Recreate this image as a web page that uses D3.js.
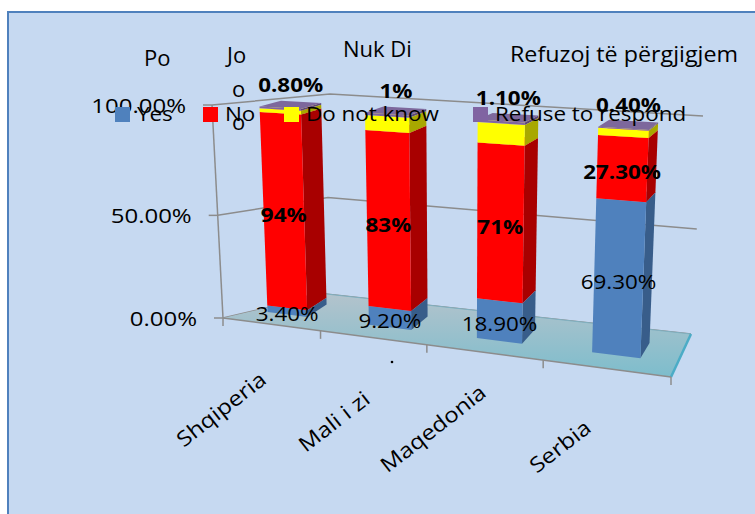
<!DOCTYPE html>
<html><head><meta charset="utf-8">
<script src="https://cdn.jsdelivr.net/npm/d3@7"></script>
<style>body{margin:0;background:#fff}svg{display:block}text{font-family:"Open Sans",sans-serif}</style>
</head><body><svg id="c" width="755" height="514"></svg>
<script>
// ---------------- data ----------------
const categories = ["Shqiperia", "Mali i zi", "Maqedonia", "Serbia"];
const seriesNames = ["Yes", "No", "Do not know", "Refuse to respond"];
const yesValues = [3.4, 9.2, 18.9, 69.3];
const noValues = [94, 83, 71, 27.3];
const dontKnowValues = [1.8, 6.8, 9.0, 3.0];
const refuseValues = [0.8, 1.0, 1.1, 0.4];
const yesLabels = ["3.40%", "9.20%", "18.90%", "69.30%"];
const noLabels = ["94%", "83%", "71%", "27.30%"];
const refuseLabels = ["0.80%", "1%", "1.10%", "0.40%"];
const valueTicks = [0, 50, 100];
const valueTickLabels = ["0.00%", "50.00%", "100.00%"];
const albanianHeaders = ["Po", "Jo", "Nuk Di", "Refuzoj të përgjigjem"];

// ---------------- scales ----------------
const uScale = d3.scaleBand().domain(categories).range([0, 1]).paddingInner(0.6).paddingOuter(0.3);
const wScale = d3.scaleLinear().domain([0, 100]).range([0, 1]);
const depth = d3.scaleLinear().domain([0, 1]).range([0.4, 0.6]);
const frontColor = d3.scaleOrdinal().domain(seriesNames).range(["#4f81bd", "#ff0000", "#ffff00", "#8064a2"]);
const sideColor = d3.scaleOrdinal().domain(seriesNames).range(["#385d8a", "#a80000", "#a8a800", "#5d4878"]);
const topColor = d3.scaleOrdinal().domain(seriesNames).range(["#6d95c8", "#ff3030", "#ffff70", "#7d689c"]);

// ---------------- wall / floor box (corner layout, foreshortened axes) ----------------
const C = {"000": [223, 318], "001": [212, 105], "010": [326, 294], "011": [330, 94],
           "100": [671, 377], "110": [691, 334], "111": [703, 116]};
const foreU = u => u * (1 - 0.165) / (1 - 0.165 * u);
const foreW = w => w * (1 - 0.07) / (1 - 0.07 * w);
const lerp = (a, b, t) => d3.interpolate(a, b)(t);
const wallPt = (corner0, corner1, w) => lerp(C[corner0], C[corner1], foreW(w));
const frontEdge = u => lerp(C["000"], C["100"], foreU(u));

// ---------------- perspective camera for the columns (fit to the reference columns) ----------------
const anchors = [
  [[0.075,0.4,0.034],[268,307]], [[0.175,0.4,0.034],[307,310]], [[0.075,0.4,1],[260,106]],
  [[0.175,0.4,1],[302,109]], [[0.175,0.6,1],[322,102]], [[0.075,0.6,1],[280,100]],
  [[0.325,0.4,0.092],[367,306]], [[0.425,0.6,0.092],[427,298]], [[0.325,0.4,1],[365,112]],
  [[0.425,0.4,1],[408,115]], [[0.425,0.6,1],[427,109]],
  [[0.575,0.4,0],[477,339]], [[0.675,0.4,0],[522,343]], [[0.675,0.6,0],[537,328]],
  [[0.575,0.4,0.189],[477,298]], [[0.575,0.4,1],[477,122]], [[0.675,0.4,1],[523,124]], [[0.675,0.6,1],[538,119]],
  [[0.825,0.4,0],[592,352]], [[0.925,0.4,0],[640,358]], [[0.925,0.6,0],[649,344]], [[0.825,0.4,0.693],[597,197]],
  [[0.825,0.4,1],[600,125]], [[0.925,0.4,1],[650,130]], [[0.925,0.6,1],[659,123]], [[0.825,0.6,1],[607,118]]
];
function solve(A, b) {
  const n = b.length, M = A.map((r, i) => r.concat([b[i]]));
  for (let c = 0; c < n; c++) {
    let p = c;
    for (let r = c + 1; r < n; r++) if (Math.abs(M[r][c]) > Math.abs(M[p][c])) p = r;
    [M[c], M[p]] = [M[p], M[c]];
    for (let r = 0; r < n; r++) {
      if (r === c) continue;
      const f = M[r][c] / M[c][c];
      for (let k = c; k <= n; k++) M[r][k] -= f * M[c][k];
    }
  }
  return M.map((r, i) => r[n] / r[i]);
}
function fitCamera(pts) {
  const AtA = Array.from({length: 11}, () => new Array(11).fill(0)), Atb = new Array(11).fill(0);
  const add = (r, b) => { for (let i = 0; i < 11; i++) { Atb[i] += r[i] * b; for (let j = 0; j < 11; j++) AtA[i][j] += r[i] * r[j]; } };
  pts.forEach(([[X, Y, Z], [sx, sy]]) => {
    const x = (sx - 400) / 300, y = (sy - 250) / 300;
    add([X, Y, Z, 1, 0, 0, 0, 0, -x * X, -x * Y, -x * Z], x);
    add([0, 0, 0, 0, X, Y, Z, 1, -y * X, -y * Y, -y * Z], y);
  });
  return solve(AtA, Atb);
}
const cam = fitCamera(anchors);
function P(X, Y, Z) {
  const d = cam[8] * X + cam[9] * Y + cam[10] * Z + 1;
  return [400 + 300 * (cam[0] * X + cam[1] * Y + cam[2] * Z + cam[3]) / d,
          250 + 300 * (cam[4] * X + cam[5] * Y + cam[6] * Z + cam[7]) / d];
}

const table = categories.map((c, i) => ({cat: c, "Yes": yesValues[i], "No": noValues[i],
  "Do not know": dontKnowValues[i], "Refuse to respond": refuseValues[i]}));
const stacked = d3.stack().keys(seriesNames)(table);

const svg = d3.select("#c");
const poly = pts => d3.line()(pts) + "Z";
const SX = 1.15;

// background frame
svg.append("rect").attr("x", 8).attr("y", 12).attr("width", 800).attr("height", 600)
  .attr("fill", "#c6d9f1").attr("stroke", "#4f81bd").attr("stroke-width", 2);

// gridlines on side + back walls
const grid = svg.append("g").attr("stroke", "#8c8c8c").attr("stroke-width", 1.5).attr("fill", "none");
valueTicks.forEach(t => {
  const w = wScale(t);
  grid.append("path").attr("d", d3.line()([wallPt("000", "001", w), wallPt("010", "011", w), wallPt("110", "111", w)]));
});
grid.append("path").attr("d", d3.line()([C["000"], C["001"]]));

// floor
const defs = svg.append("defs");
const fg = defs.append("linearGradient").attr("id", "floorGrad").attr("gradientUnits", "userSpaceOnUse")
  .attr("x1", 0).attr("x2", 0).attr("y1", C["010"][1]).attr("y2", C["100"][1]);
fg.append("stop").attr("offset", 0).attr("stop-color", "#b3c3cc");
fg.append("stop").attr("offset", 1).attr("stop-color", "#7dbdcc");
svg.append("path").attr("d", poly([C["000"], C["100"], C["110"], C["010"]])).attr("fill", "url(#floorGrad)");
svg.append("path").attr("d", d3.line()([C["010"], C["110"]])).attr("stroke", "#7fb0c0").attr("stroke-width", 1).attr("fill", "none");
svg.append("path").attr("d", d3.line()([C["100"], C["110"]])).attr("stroke", "#4bacc6").attr("stroke-width", 2.5).attr("fill", "none");
svg.append("path").attr("d", d3.line()([C["000"], C["100"]])).attr("stroke", "#8c8c8c").attr("stroke-width", 1.5).attr("fill", "none");

// ticks
const ticks = svg.append("g").attr("stroke", "#8c8c8c").attr("stroke-width", 1.5);
valueTicks.forEach(t => {
  const q = wallPt("000", "001", wScale(t));
  ticks.append("line").attr("x1", q[0] - 9).attr("x2", q[0]).attr("y1", q[1]).attr("y2", q[1]);
});
d3.range(0, categories.length + 1).map(i => i / categories.length).forEach(u => {
  const q = frontEdge(u);
  ticks.append("line").attr("x1", q[0]).attr("x2", q[0]).attr("y1", q[1]).attr("y2", q[1] + 8);
});

// columns
const bars = svg.append("g");
categories.forEach((cat, ci) => {
  const u0 = uScale(cat), u1 = u0 + uScale.bandwidth(), v0 = depth(0), v1 = depth(1);
  stacked.forEach(layer => {
    const key = layer.key, w0 = wScale(layer[ci][0]), w1 = wScale(layer[ci][1]);
    bars.append("path").attr("d", poly([P(u1, v0, w0), P(u1, v1, w0), P(u1, v1, w1), P(u1, v0, w1)])).attr("fill", sideColor(key));
    bars.append("path").attr("d", poly([P(u0, v0, w0), P(u1, v0, w0), P(u1, v0, w1), P(u0, v0, w1)])).attr("fill", frontColor(key));
    bars.append("path").attr("d", poly([P(u0, v0, w1), P(u1, v0, w1), P(u1, v1, w1), P(u0, v1, w1)])).attr("fill", topColor(key));
  });
});

function txt(x, y, s, opts = {}) {
  const t = svg.append("text")
    .attr("transform", `translate(${x},${y}) rotate(${opts.rot || 0}) scale(${opts.sx || SX},1)`)
    .attr("text-anchor", opts.anchor || "middle")
    .attr("font-size", opts.size || 19.5)
    .attr("font-weight", opts.bold ? "bold" : "normal")
    .attr("fill", "#000").text(s);
  if (opts.len) t.attr("textLength", opts.len).attr("lengthAdjust", "spacingAndGlyphs");
  return t;
}

// Albanian header texts
txt(144, 66, albanianHeaders[0], {anchor: "start", size: 22, sx: 1});
txt(227, 63, albanianHeaders[1], {anchor: "start", size: 22, sx: 1});
txt(232, 97, "o", {anchor: "start", size: 22, sx: 1});
txt(232, 130, "o", {anchor: "start", size: 22, sx: 1});

// value axis labels
valueTicks.forEach((t, i) => {
  const q = wallPt("000", "001", wScale(t));
  txt(q[0] - 26, q[1] + 8, valueTickLabels[i], {anchor: "end", size: 20, sx: 1.2});
});

// data labels
categories.forEach((cat, ci) => {
  const uc = uScale(cat) + uScale.bandwidth() / 2;
  const sYes = stacked[0][ci], sNo = stacked[1][ci], sRef = stacked[3][ci];
  let q = P(uc, depth(0), wScale((sYes[0] + sYes[1]) / 2));
  txt(q[0], q[1] + 10, yesLabels[ci]);
  q = P(uc, depth(0), wScale((sNo[0] + sNo[1]) / 2));
  txt(q[0], q[1] + 10, noLabels[ci], {bold: true});
  q = P(uc, depth(0.5), wScale(sRef[1]));
  txt(q[0], q[1] - 13, refuseLabels[ci], {bold: true});
});

// opaque header box for "Nuk Di" (clips top of the label under it)
svg.append("rect").attr("x", 330).attr("y", 20).attr("width", 140).attr("height", 59).attr("fill", "#c6d9f1");
txt(343, 57, albanianHeaders[2], {anchor: "start", size: 22, sx: 1});
txt(510, 62, albanianHeaders[3], {anchor: "start", size: 22, sx: 1, len: 228});

// legend
const legendX = [115, 203, 284, 473];
seriesNames.forEach((s, i) => {
  svg.append("rect").attr("x", legendX[i]).attr("y", 107).attr("width", 15).attr("height", 15).attr("fill", frontColor(s));
  txt(legendX[i] + 22, 121, s, {anchor: "start"});
});

// category labels
const catNudge = [[0, 0], [2, 6], [7, -15], [-10, 4]];
categories.forEach((cat, i) => {
  const q = frontEdge(uScale(cat) + uScale.bandwidth() / 2);
  txt(q[0] - 3 + catNudge[i][0], q[1] + 58 + catNudge[i][1], cat, {anchor: "end", rot: -38, size: 21, sx: 1.15});
});
// stray dot
svg.append("circle").attr("cx", 392).attr("cy", 362).attr("r", 1.3).attr("fill", "#000");
</script>
</body></html>
